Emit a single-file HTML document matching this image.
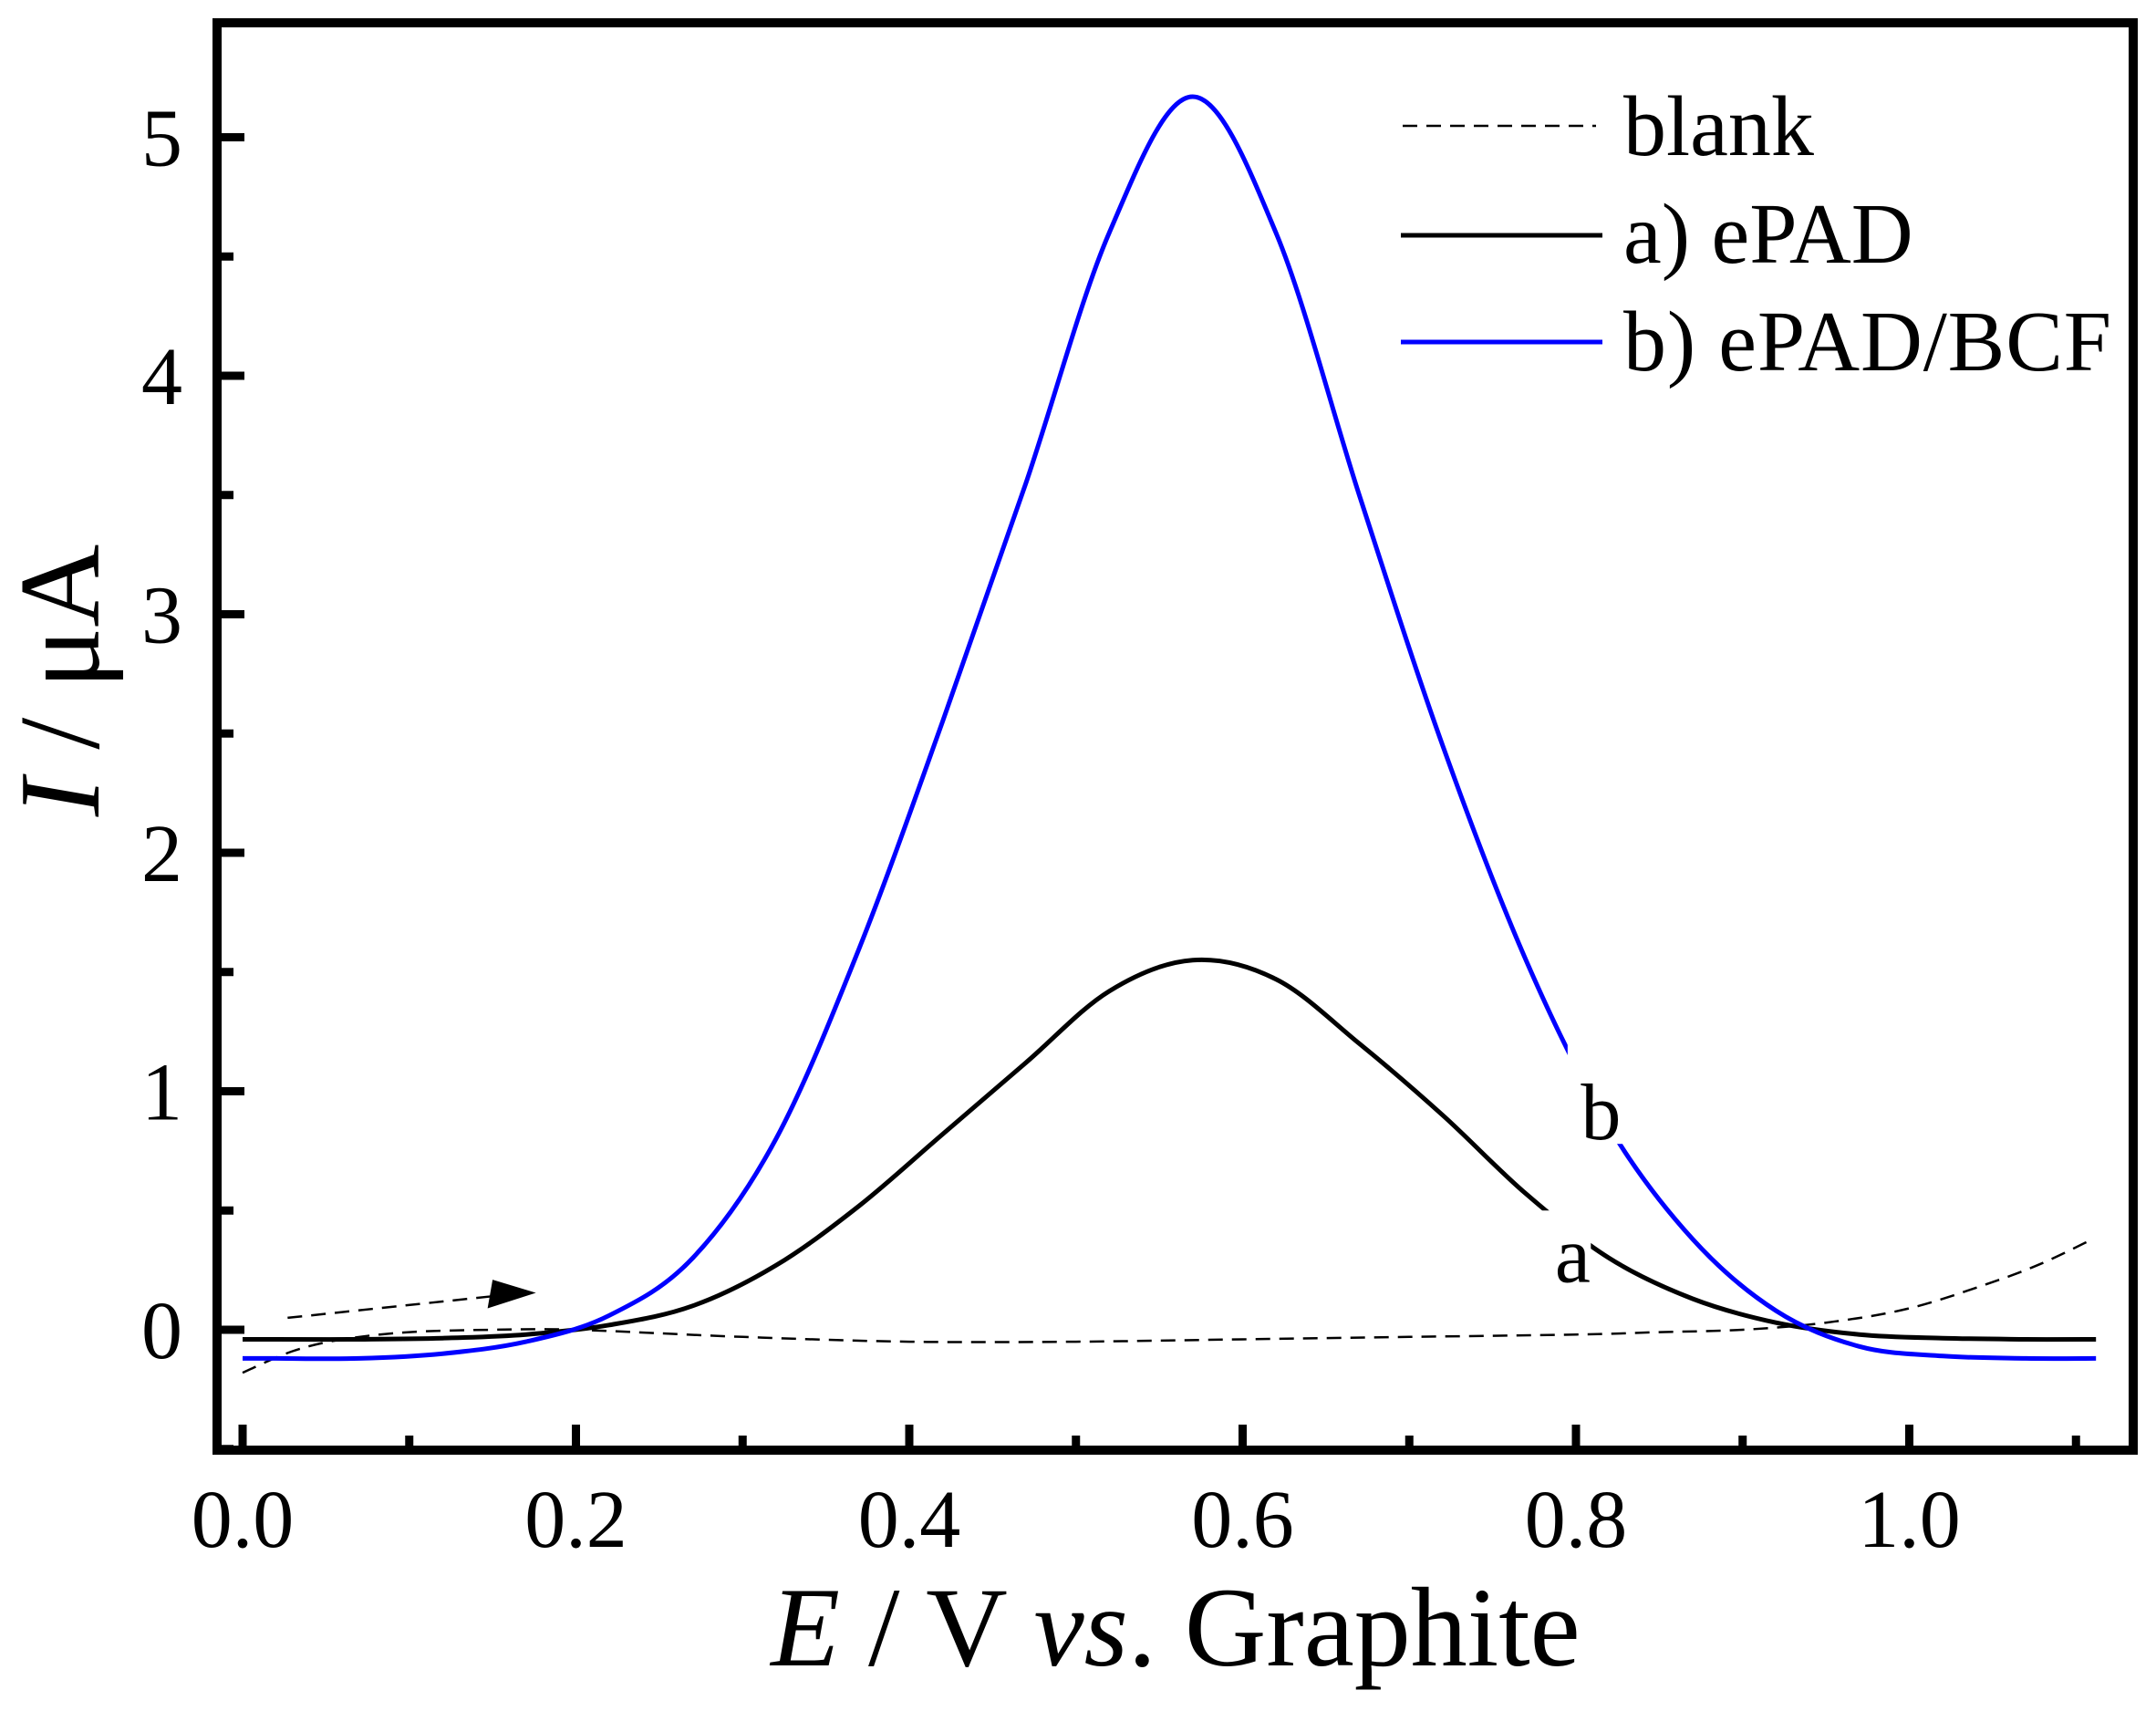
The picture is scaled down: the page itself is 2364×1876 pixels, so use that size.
<!DOCTYPE html>
<html><head><meta charset="utf-8"><style>
html,body{margin:0;padding:0;background:#fff;}
svg{display:block;font-family:"Liberation Serif",serif;}
</style></head><body>
<svg id="chart" width="2364" height="1876" viewBox="0 0 2364 1876" xmlns="http://www.w3.org/2000/svg">
<rect width="2364" height="1876" fill="#fff"/>
<g id="curves"></g>
<g id="axes"></g>
</svg>
<script>
const blankE=[0.0,0.03,0.06,0.1,0.15,0.2,0.3,0.4,0.5,0.6,0.7,0.8,0.85,0.9,0.95,1.0,1.05,1.08,1.11];
const blankI=[-0.18,-0.09,-0.04,-0.01,0.0,0.0,-0.03,-0.05,-0.05,-0.04,-0.03,-0.02,-0.01,0.0,0.03,0.09,0.2,0.28,0.38];
const aE=[0.0,0.02,0.07,0.12,0.17,0.22,0.27,0.32,0.37,0.42,0.47,0.52,0.57,0.62,0.67,0.72,0.77,0.82,0.87,0.92,0.97,1.02,1.07,1.112];
const aI=[-0.04,-0.04,-0.04,-0.035,-0.02,0.02,0.1,0.27,0.52,0.82,1.12,1.42,1.55,1.47,1.2,0.9,0.57,0.3,0.13,0.03,-0.02,-0.035,-0.04,-0.04];
const bE=[0.0,0.02,0.07,0.12,0.17,0.22,0.27,0.32,0.37,0.42,0.47,0.52,0.57,0.62,0.67,0.72,0.77,0.82,0.87,0.92,0.97,1.02,1.07,1.112];
const bI=[-0.12,-0.12,-0.12,-0.1,-0.05,0.06,0.3,0.8,1.6,2.55,3.55,4.6,5.17,4.6,3.5,2.45,1.55,0.85,0.38,0.08,-0.07,-0.11,-0.12,-0.12];
const xTicks=[0.0,0.2,0.4,0.6,0.8,1.0];
const xTickLabels=["0.0","0.2","0.4","0.6","0.8","1.0"];
const yTicks=[0,1,2,3,4,5];
const yTickLabels=["0","1","2","3","4","5"];
const NS="http://www.w3.org/2000/svg";
const X0=266,XS=1827.5,Y0=1458,YS=261.5;
function sx(e){return X0+e*XS;}
function sy(i){return Y0-i*YS;}
function mk(tag,attrs,parent){const el=document.createElementNS(NS,tag);for(const k in attrs)el.setAttribute(k,attrs[k]);parent.appendChild(el);return el;}
function smoothPath(E,I){
  const p=E.map((e,k)=>[sx(e),sy(I[k])]);
  let d="M"+p[0][0].toFixed(1)+","+p[0][1].toFixed(1);
  for(let k=0;k<p.length-1;k++){
    const p0=p[Math.max(k-1,0)],p1=p[k],p2=p[k+1],p3=p[Math.min(k+2,p.length-1)];
    const c1=[p1[0]+(p2[0]-p0[0])/6,p1[1]+(p2[1]-p0[1])/6];
    const c2=[p2[0]-(p3[0]-p1[0])/6,p2[1]-(p3[1]-p1[1])/6];
    d+=" C"+c1[0].toFixed(1)+","+c1[1].toFixed(1)+" "+c2[0].toFixed(1)+","+c2[1].toFixed(1)+" "+p2[0].toFixed(1)+","+p2[1].toFixed(1);
  }
  return d;
}
const g=document.getElementById('curves');
const ax=document.getElementById('axes');
let el;
el=mk('path',{d:smoothPath(blankE,blankI),fill:'none',stroke:'#000','stroke-width':2.5,'stroke-dasharray':'16,10'},g);


el=mk('path',{d:smoothPath(aE,aI),fill:'none',stroke:'#000','stroke-width':5},g);


el=mk('path',{d:smoothPath(bE,bI),fill:'none',stroke:'#0000ff','stroke-width':5},g);


el=mk('line',{x1:sx(0.027),y1:sy(0.05),x2:sx(0.16),y2:sy(0.148),stroke:'#000','stroke-width':2.5,'stroke-dasharray':'16,10'},g);


el=mk('polygon',{points:`${sx(0.176)},${sy(0.155)} ${sx(0.15)},${sy(0.21)} ${sx(0.147)},${sy(0.09)}`,fill:'#000'},g);


el=mk('rect',{x:sx(0.775),y:sy(0.5),width:62,height:120,fill:'#fff'},g);


el=mk('rect',{x:sx(0.795),y:sy(1.2),width:60,height:110,fill:'#fff'},g);


el=mk('text',{x:sx(0.798),y:sy(0.2),'font-size':88,'text-anchor':'middle'},g);
el.textContent='a';


el=mk('text',{x:sx(0.815),y:sy(0.8),'font-size':88,'text-anchor':'middle'},g);
el.textContent='b';


el=mk('rect',{x:238,y:25,width:2101,height:1565,fill:'none',stroke:'#000','stroke-width':10},ax);


for(let k=0;k<xTicks.length;k++){
  el=mk('line',{x1:sx(xTicks[k]),y1:1590,x2:sx(xTicks[k]),y2:1562,stroke:'#000','stroke-width':9},ax);
  
  
  el=mk('text',{x:sx(xTicks[k]),y:1696,'font-size':90,'text-anchor':'middle'},ax);
  el.textContent=xTickLabels[k];
  
  
}
for(let k=0;k<6;k++){
  const e=0.1+0.2*k;
  el=mk('line',{x1:sx(e),y1:1590,x2:sx(e),y2:1574,stroke:'#000','stroke-width':9},ax);
  
  
}
for(let k=0;k<yTicks.length;k++){
  el=mk('line',{x1:238,y1:sy(yTicks[k]),x2:268,y2:sy(yTicks[k]),stroke:'#000','stroke-width':9},ax);
  
  
  el=mk('text',{x:200,y:sy(yTicks[k])+31,'font-size':90,'text-anchor':'end'},ax);
  el.textContent=yTickLabels[k];
  
  
}
for(let k=-1;k<5;k++){
  const v=k+0.5;
  el=mk('line',{x1:238,y1:sy(v),x2:256,y2:sy(v),stroke:'#000','stroke-width':9},ax);
  
  
}
</script>
<svg style="position:absolute;left:0;top:0;font-family:'Liberation Serif',serif" width="2364" height="1876">
<text x="1289" y="1826" font-size="124" text-anchor="middle"><tspan font-style="italic">E</tspan> / V <tspan font-style="italic">vs</tspan>. Graphite</text>
<text transform="translate(108,746) rotate(-90)" font-size="126" text-anchor="middle"><tspan font-style="italic">I</tspan> / μA</text>
<g>
<line x1="1538" y1="138" x2="1750" y2="138" stroke="#000" stroke-width="2.5" stroke-dasharray="16,10"/>
<text x="1780" y="170" font-size="94">blank</text>
<line x1="1536" y1="258" x2="1757" y2="258" stroke="#000" stroke-width="5"/>
<text x="1780" y="288" font-size="94">a) ePAD</text>
<line x1="1536" y1="375" x2="1757" y2="375" stroke="#0000ff" stroke-width="5"/>
<text x="1780" y="406" font-size="94" textLength="535">b) ePAD/BCF</text>
</g>
</svg>
</body></html>
